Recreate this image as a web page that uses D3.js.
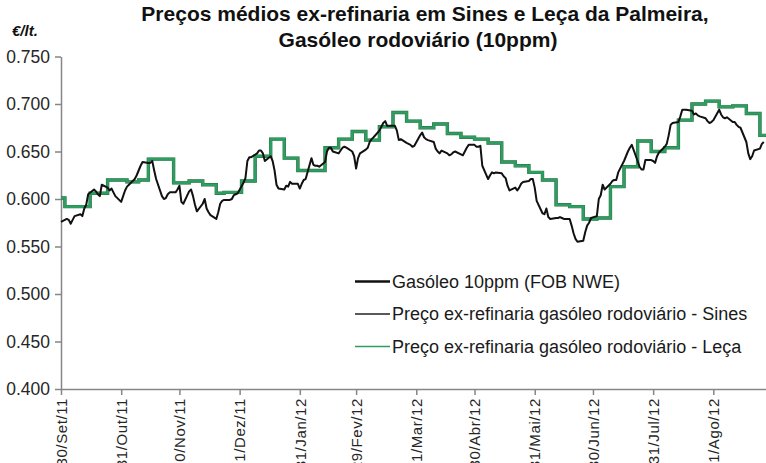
<!DOCTYPE html>
<html>
<head>
<meta charset="utf-8">
<script src="https://d3js.org/d3.v7.min.js"></script>
<style>
  body { margin: 0; background: #fff; }
  text { font-family: "Liberation Sans", Arial, sans-serif; }
</style>
</head>
<body>
<div id="chart"></div>
<script>
// first quote of the FOB series, one value per working day after it
var startDate = "2011-09-30";
var fobValues = [
  0.576,
  0.579, 0.578, 0.574, 0.578, 0.582,
  0.584, 0.582, 0.590, 0.594, 0.605,
  0.610, 0.608, 0.605, 0.603, 0.615,
  0.612, 0.609, 0.611, 0.607, 0.603,
  0.597, 0.603, 0.609, 0.613, 0.615,
  0.621, 0.625, 0.630, 0.635, 0.639,
  0.638, 0.638, 0.640, 0.630, 0.621,
  0.603, 0.600, 0.601, 0.605, 0.607,
  0.607, 0.610, 0.614, 0.597, 0.595,
  0.608, 0.610, 0.603, 0.594, 0.587,
  0.595, 0.600, 0.590, 0.586, 0.583,
  0.579, 0.586, 0.595, 0.598, 0.599,
  0.599, 0.600, 0.604, 0.605, 0.606,
  0.617, 0.622, 0.640, 0.644, 0.644,
  0.648, 0.651, 0.651, 0.648, 0.640,
  0.645, 0.640, 0.630, 0.615, 0.611,
  0.610, 0.614, 0.613, 0.618, 0.616,
  0.616, 0.611, 0.616, 0.620, 0.621,
  0.643, 0.636, 0.635, 0.635, 0.634,
  0.639, 0.650, 0.654, 0.654, 0.650,
  0.648, 0.651, 0.654, 0.655, 0.654,
  0.650, 0.645, 0.632, 0.643, 0.648,
  0.652, 0.654, 0.660, 0.663, 0.665,
  0.672, 0.676, 0.680, 0.682, 0.677,
  0.677, 0.677, 0.672, 0.662, 0.663,
  0.659, 0.658, 0.657, 0.655, 0.656,
  0.667, 0.670, 0.665, 0.663, 0.662,
  0.660, 0.653, 0.650, 0.648, 0.651,
  0.648, 0.646, 0.647, 0.649, 0.650,
  0.647, 0.646, 0.650, 0.654, 0.657,
  0.657, 0.655, 0.655, 0.656, 0.635,
  0.621, 0.625, 0.628, 0.627, 0.628,
  0.627, 0.624, 0.622, 0.614, 0.609,
  0.612, 0.609, 0.612, 0.616, 0.618,
  0.619, 0.621, 0.621, 0.612, 0.598,
  0.585, 0.584, 0.590, 0.581, 0.579,
  0.580, 0.580, 0.581, 0.580, 0.579,
  0.579, 0.572, 0.564, 0.558, 0.555,
  0.556, 0.565, 0.572, 0.575, 0.580,
  0.582, 0.600, 0.604, 0.615, 0.610,
  0.616, 0.619, 0.620, 0.620, 0.628,
  0.640, 0.645, 0.650, 0.654, 0.657,
  0.640, 0.634, 0.631, 0.631, 0.641,
  0.641, 0.640, 0.638, 0.645, 0.649,
  0.655, 0.658, 0.667, 0.678, 0.680,
  0.681, 0.687, 0.694, 0.694, 0.694,
  0.693, 0.689, 0.690, 0.688, 0.687,
  0.685, 0.682, 0.680, 0.681, 0.683,
  0.694, 0.689, 0.686, 0.685, 0.686,
  0.681, 0.681, 0.678, 0.676, 0.675,
  0.660, 0.648, 0.642, 0.645, 0.651,
  0.653, 0.658, 0.660
];

// ex-refinery prices change by steps
var stepDates = [
  "2011-09-30", "2011-10-02", "2011-10-15", "2011-10-24", "2011-11-03", "2011-11-09",
  "2011-11-14", "2011-11-27", "2011-12-05", "2011-12-12", "2011-12-19", "2011-12-23",
  "2012-01-01", "2012-01-08", "2012-01-16", "2012-01-23", "2012-01-30", "2012-02-13",
  "2012-02-20", "2012-02-27", "2012-03-05", "2012-03-12", "2012-03-19", "2012-03-26",
  "2012-04-02", "2012-04-09", "2012-04-16", "2012-04-23", "2012-04-30", "2012-05-07",
  "2012-05-14", "2012-05-21", "2012-05-28", "2012-06-04", "2012-06-11", "2012-06-18",
  "2012-06-25", "2012-07-02", "2012-07-09", "2012-07-16", "2012-07-23", "2012-07-30",
  "2012-08-06", "2012-08-13", "2012-08-20", "2012-08-27", "2012-09-03", "2012-09-10",
  "2012-09-17", "2012-09-24", "2012-09-28"
];
var sinesValues = [
  0.601, 0.592, 0.606, 0.620, 0.618, 0.620,
  0.642, 0.617, 0.619, 0.615, 0.606, 0.607,
  0.619, 0.645, 0.663, 0.643, 0.630, 0.654,
  0.663, 0.671, 0.662, 0.676, 0.691, 0.682,
  0.675, 0.679, 0.669, 0.665, 0.663, 0.659,
  0.639, 0.635, 0.628, 0.620, 0.594, 0.592,
  0.579, 0.580, 0.613, 0.634, 0.661, 0.650,
  0.654, 0.683, 0.700, 0.703, 0.697, 0.698,
  0.690, 0.667, 0.667
];
var lecaValues = [
  0.601, 0.592, 0.606, 0.620, 0.618, 0.620,
  0.642, 0.617, 0.619, 0.615, 0.606, 0.607,
  0.619, 0.645, 0.663, 0.643, 0.630, 0.654,
  0.663, 0.671, 0.662, 0.676, 0.691, 0.682,
  0.675, 0.679, 0.669, 0.665, 0.663, 0.659,
  0.639, 0.635, 0.628, 0.620, 0.594, 0.592,
  0.579, 0.580, 0.613, 0.634, 0.661, 0.650,
  0.654, 0.683, 0.700, 0.703, 0.697, 0.698,
  0.690, 0.667, 0.667
];

var tickDates = ["2011-09-30", "2011-10-31", "2011-11-30", "2011-12-31", "2012-01-31", "2012-02-29",
  "2012-03-31", "2012-04-30", "2012-05-31", "2012-06-30", "2012-07-31", "2012-08-31"];
var tickLabels = ["30/Set/11", "31/Out/11", "30/Nov/11", "31/Dez/11", "31/Jan/12", "29/Fev/12",
  "31/Mar/12", "30/Abr/12", "31/Mai/12", "30/Jun/12", "31/Jul/12", "31/Ago/12"];
var yTicks = [0.400, 0.450, 0.500, 0.550, 0.600, 0.650, 0.700, 0.750];

var seriesNames = ["Gasóleo 10ppm (FOB NWE)",
  "Preço ex-refinaria gasóleo rodoviário - Sines",
  "Preço ex-refinaria gasóleo rodoviário - Leça"];
var titleLines = ["Preços médios ex-refinaria em Sines e Leça da Palmeira,",
  "Gasóleo rodoviário (10ppm)"];

var parseDate = d3.timeParse("%Y-%m-%d");

// working days for the FOB quotes
var fobDates = [];
var day = parseDate(startDate);
while (fobDates.length < fobValues.length) {
  if (day.getDay() != 0 && day.getDay() != 6) fobDates.push(day);
  day = d3.timeDay.offset(day, 1);
}
var fob = fobValues.map((v, i) => ({date: fobDates[i], value: v}));
var sines = sinesValues.map((v, i) => ({date: parseDate(stepDates[i]), value: v}));
var leca = lecaValues.map((v, i) => ({date: parseDate(stepDates[i]), value: v}));

// svg params
var svgWidth = 766;
var svgHeight = 463;
var margin = {top: 56.5, left: 61};
var chartHeight = 332.5;
var chartWidth = 706.7;

var svg = d3.select("#chart").append("svg")
  .attr("width", svgWidth)
  .attr("height", svgHeight);

var chartGroup = svg.append("g")
  .attr("transform", `translate(${margin.left}, ${margin.top})`);

var xScale = d3.scaleTime()
  .domain([parseDate("2011-09-30"), parseDate("2012-09-28")])
  .range([0, chartWidth]);

var yScale = d3.scaleLinear()
  .domain([0.4, 0.75])
  .range([chartHeight, 0]);

// axes
var yAxis = d3.axisLeft(yScale)
  .tickValues(yTicks)
  .tickFormat(d3.format(".3f"))
  .tickSize(6)
  .tickSizeOuter(0)
  .tickPadding(5);

var xAxis = d3.axisBottom(xScale)
  .tickValues(tickDates.map(parseDate))
  .tickFormat((d, i) => tickLabels[i])
  .tickSize(6)
  .tickSizeOuter(0);

var yG = chartGroup.append("g").call(yAxis);
yG.selectAll("text")
  .style("font-size", "17.5px")
  .attr("fill", "#262626");

var xG = chartGroup.append("g")
  .attr("transform", `translate(0, ${chartHeight})`)
  .call(xAxis);
xG.selectAll("text")
  .style("font-size", "15px")
  .style("letter-spacing", "0.6px")
  .attr("fill", "#262626")
  .attr("transform", "rotate(-90)")
  .attr("x", -9)
  .attr("y", 0)
  .attr("dy", "0.35em")
  .style("text-anchor", "end");

chartGroup.selectAll(".domain, .tick line")
  .attr("stroke", "#868686")
  .attr("stroke-width", 1.5);

// lines
var fobLine = d3.line()
  .x(d => xScale(d.date))
  .y(d => yScale(d.value));

var stepLine = d3.line()
  .x(d => xScale(d.date))
  .y(d => yScale(d.value))
  .curve(d3.curveStepAfter);

chartGroup.append("path")
  .datum(sines)
  .attr("d", stepLine)
  .attr("fill", "none")
  .attr("stroke", "#2a6a44")
  .attr("stroke-width", 3.4);

chartGroup.append("path")
  .datum(leca)
  .attr("d", stepLine)
  .attr("fill", "none")
  .attr("stroke", "#2e9e60")
  .attr("stroke-width", 2.6);

chartGroup.append("path")
  .datum(fob)
  .attr("d", fobLine)
  .attr("fill", "none")
  .attr("stroke", "#111")
  .attr("stroke-width", 2)
  .attr("stroke-linejoin", "round");

// title
svg.selectAll(".title")
  .data(titleLines)
  .enter()
  .append("text")
  .attr("class", "title")
  .attr("x", (d, i) => i == 0 ? 425 : 418)
  .attr("y", (d, i) => 21 + i * 26)
  .attr("text-anchor", "middle")
  .style("font-size", "21px")
  .style("font-weight", "bold")
  .attr("fill", "#111")
  .text(d => d);

svg.append("text")
  .attr("x", 12)
  .attr("y", 36)
  .style("font-size", "15px")
  .style("font-weight", "bold")
  .style("font-style", "italic")
  .attr("fill", "#111")
  .text("€/lt.");

// legend
var legendColors = ["#111", "#222", "#2e9e60"];
var legendWidths = [2.5, 1.5, 1.5];
var legend = svg.selectAll(".legend")
  .data(seriesNames)
  .enter()
  .append("g")
  .attr("class", "legend")
  .attr("transform", (d, i) => `translate(355, ${281.5 + i * 32.5})`);

legend.append("line")
  .attr("x1", 0)
  .attr("x2", 35)
  .attr("stroke", (d, i) => legendColors[i])
  .attr("stroke-width", (d, i) => legendWidths[i]);

legend.append("text")
  .attr("x", 37)
  .attr("dy", "0.35em")
  .style("font-size", "18px")
  .attr("fill", "#1a1a1a")
  .text(d => d);
</script>
</body>
</html>
